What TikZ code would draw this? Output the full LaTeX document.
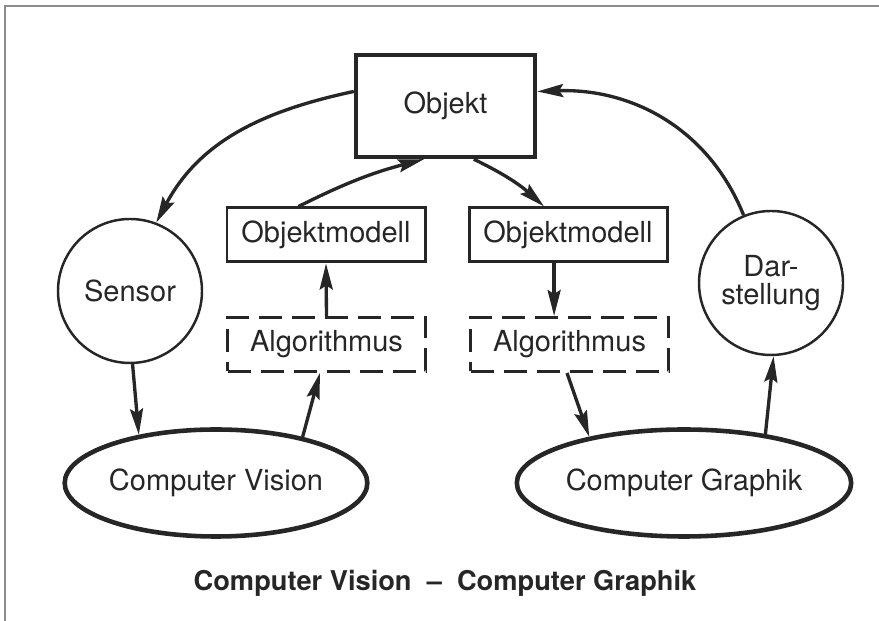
\documentclass[tikz,border=0pt]{standalone}
\usepackage{fontspec}
\setmainfont{TeX Gyre Heros}
\usetikzlibrary{arrows.meta}
\usetikzlibrary{shapes.geometric}

\begin{document}
\begin{tikzpicture}[
		modelbox/.style={draw=black!85, line width=1.7pt, minimum width=3.96cm, minimum height=1.08cm, inner sep=0pt},
		algobox/.style={modelbox, dash pattern=on 4.6mm off 2mm},
		roundbox/.style={circle, draw=black!85, line width=1.4pt, minimum size=2.88cm, inner sep=0pt, align=center},
		fieldbox/.style={ellipse, draw=black!85, line width=2.6pt, minimum width=5.1cm, minimum height=2.14cm, inner sep=0pt},
		flow/.style={-{Stealth[length=5.2mm,width=2.6mm,inset=0.8mm]}, line width=1.9pt, draw=black!85},
		font=\fontsize{16.5}{16}\selectfont, text=black!85]
		\useasboundingbox (0,0) rectangle (17.58,12.42);
		\draw[black!45, line width=1pt] (0.1,0) -- (0.1,12.3) -- (17.58,12.3);

		\node[draw=black!85, line width=2.5pt, minimum width=3.58cm, minimum height=2.04cm] (objekt) at (8.91,10.30) {Objekt};

		\node[modelbox] (oml) at (6.52,7.72) {Objektmodell};
		\node[modelbox] (omr) at (11.36,7.72) {Objektmodell};
		\node[algobox] (algl) at (6.53,5.53) {Algorithmus};
		\node[algobox] (algr) at (11.39,5.53) {Algorithmus};

		\node[roundbox] (sensor) at (2.60,6.60) {Sensor};
		\node[roundbox] (dar) at (15.42,6.76) {Dar-\\stellung};

		\node[fieldbox] (cv) at (4.32,2.76) {Computer Vision};
		\node[fieldbox] (cg) at (13.68,2.76) {Computer Graphik};

		\draw[flow] (objekt.171) to[out=192,in=62] (sensor.69);
		\draw[flow] (dar.112) to[out=112,in=2] (objekt.9);
		\draw[flow] (oml.134) to[bend left=6] (objekt.-112);
		\draw[flow] (objekt.-62) to[bend left=8] (omr.130);

		\draw[flow] (algl.north) -- (oml.south);
		\draw[flow] (omr.-116) -- (omr.-116 |- algr.north);

		\draw[flow] (sensor.-88) -- (cv.148);
		\draw[flow] (cv.28) -- (algl.-103);
		\draw[flow] (algr.-95) -- (cg.154);
		\draw[flow] (cg.31) -- (dar.-88);

		\node[font=\fontsize{15.5}{18}\selectfont\bfseries] (caption) at (8.9,0.76) {Computer Vision \ -- \ Computer Graphik};

	\end{tikzpicture}
\end{document}
